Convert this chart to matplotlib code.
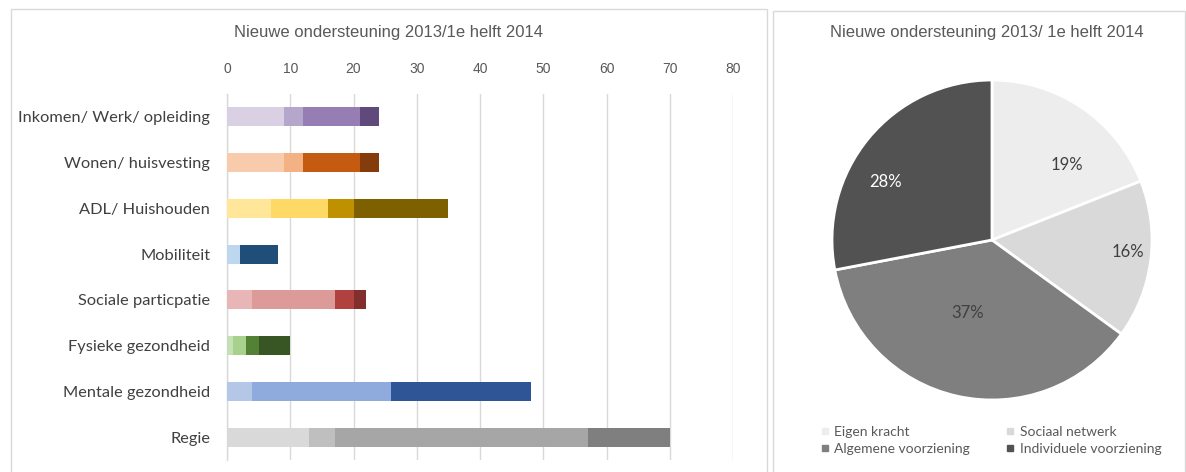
import matplotlib
matplotlib.use("Agg")
import matplotlib.pyplot as plt
from matplotlib.patches import Rectangle
from matplotlib.lines import Line2D
import numpy as np

# ---------------- data ----------------
categories = ["Inkomen/ Werk/ opleiding", "Wonen/ huisvesting", "ADL/ Huishouden",
              "Mobiliteit", "Sociale particpatie", "Fysieke gezondheid",
              "Mentale gezondheid", "Regie"]
eigen_kracht = [9, 9, 7, 2, 4, 1, 4, 13]
sociaal_netwerk = [3, 3, 9, 0, 13, 2, 22, 4]
algemene_voorziening = [9, 9, 4, 0, 3, 2, 0, 40]
individuele_voorziening = [3, 3, 15, 6, 2, 5, 22, 13]
x_ticks = [0, 10, 20, 30, 40, 50, 60, 70, 80]

pie_labels = ["Eigen kracht", "Sociaal netwerk", "Algemene voorziening", "Individuele voorziening"]
pie_values = [19, 16, 37, 28]

bar_title = "Nieuwe ondersteuning 2013/1e helft 2014"
pie_title = "Nieuwe ondersteuning 2013/ 1e helft 2014"

# per-category colour ramps (light -> dark)
cat_colors = [
    ["#D9D0E3", "#B4A7CB", "#967DB3", "#604A7B"],
    ["#F8CBAD", "#F4B183", "#C55A11", "#843C0C"],
    ["#FFE699", "#FFD966", "#BF9000", "#7F6000"],
    ["#BDD7EE", "#9DC3E6", "#2E75B6", "#1F4E79"],
    ["#E8B6B6", "#DC9A98", "#B0413E", "#822E2D"],
    ["#C5E0B4", "#A9D18E", "#548235", "#375623"],
    ["#B4C7E7", "#8FAADC", "#4472C4", "#2F5597"],
    ["#D9D9D9", "#BFBFBF", "#A6A6A6", "#7F7F7F"],
]
pie_colors = ["#EDEDED", "#D9D9D9", "#7F7F7F", "#525252"]
# label placement (radius fraction, angle shift in degrees) mimicking Excel best-fit
label_radius = [0.66, 0.85, 0.48, 0.76]
label_shift = [-10.8, 2.2, -6.3, 11.1]

W, H = 1186, 472
fig = plt.figure(figsize=(W / 100, H / 100), dpi=100)
fig.patch.set_facecolor("white")

def fx(px):
    return px / W

def fy(py):
    return 1 - py / H

calibri_like = ["Lato", "DejaVu Sans"]
arial_like = ["Liberation Sans", "DejaVu Sans"]

# panel borders
for (x0, y0, x1, y1) in [(11, 9, 767, 480), (773, 11, 1185, 480)]:
    fig.patches.append(Rectangle((fx(x0), fy(y1)), fx(x1) - fx(x0), fy(y0) - fy(y1),
                                 transform=fig.transFigure, facecolor="none",
                                 edgecolor="#D9D9D9", lw=1.0, zorder=0))

# ---------------- bar chart ----------------
ax = fig.add_axes([fx(227), fy(460), fx(733) - fx(227), fy(94) - fy(460)])
ypos = np.arange(len(categories))
series = [eigen_kracht, sociaal_netwerk, algemene_voorziening, individuele_voorziening]
left = np.zeros(len(categories))
for si, vals in enumerate(series):
    cols = [cat_colors[ci][si] for ci in range(len(categories))]
    ax.barh(ypos, vals, left=left, height=0.42, color=cols, edgecolor="none", zorder=3)
    left = left + np.array(vals)

ax.set_xlim(0, 80)
ax.set_ylim(len(categories) - 0.5, -0.5)
ax.set_xticks(x_ticks)
ax.xaxis.tick_top()
ax.tick_params(axis="x", length=0, pad=13, labelsize=10, labelcolor="#595959")
for lbl in ax.get_xticklabels():
    lbl.set_family(arial_like)
ax.set_yticks(ypos)
ax.set_yticklabels(categories)
ax.tick_params(axis="y", length=0, pad=12, labelsize=11.8, labelcolor="#404040")
for lbl in ax.get_yticklabels():
    lbl.set_family(calibri_like)
ax.grid(axis="x", color="#D9D9D9", lw=1.0, zorder=0)
for s in ["top", "right", "bottom"]:
    ax.spines[s].set_visible(False)
ax.spines["left"].set_color("#D9D9D9")
ax.spines["left"].set_linewidth(1.0)

fig.text(fx(389), fy(33), bar_title, ha="center", va="center", fontsize=12,
         color="#595959", family=arial_like)

# ---------------- pie chart ----------------
r = 160
pax = fig.add_axes([fx(992 - r), fy(240 + r), fx(2 * r), (2 * r) / H])
wedges, texts, autotexts = pax.pie(
    pie_values, colors=pie_colors, startangle=90, counterclock=False,
    autopct="%1.0f%%", pctdistance=0.66,
    wedgeprops=dict(edgecolor="white", linewidth=2))
for i, (w, t) in enumerate(zip(wedges, autotexts)):
    mid = np.deg2rad((w.theta1 + w.theta2) / 2 + label_shift[i])
    t.set_position((label_radius[i] * np.cos(mid), label_radius[i] * np.sin(mid)))
    t.set_fontsize(12)
    t.set_family(calibri_like)
    t.set_color("white" if i == 3 else "#404040")
pax.set_xlim(-1.0, 1.0)
pax.set_ylim(-1.0, 1.0)
pax.set_aspect("equal")

fig.text(fx(987), fy(33), pie_title, ha="center", va="center", fontsize=12,
         color="#595959", family=arial_like)

handles = [Line2D([0], [0], marker="s", linestyle="none", markersize=5,
                  markerfacecolor=c, markeredgecolor=c) for c in pie_colors]
order = [0, 2, 1, 3]
leg = fig.legend([handles[i] for i in order], [pie_labels[i] for i in order],
                 ncol=2, loc="upper left",
                 bbox_to_anchor=(fx(808), fy(413)), frameon=False,
                 handlelength=0.6, handletextpad=0.4, columnspacing=2.6,
                 labelspacing=0.4, prop=dict(family=calibri_like, size=10))
for t in leg.get_texts():
    t.set_color("#595959")

fig.savefig("out.png", dpi=100, facecolor="white")
